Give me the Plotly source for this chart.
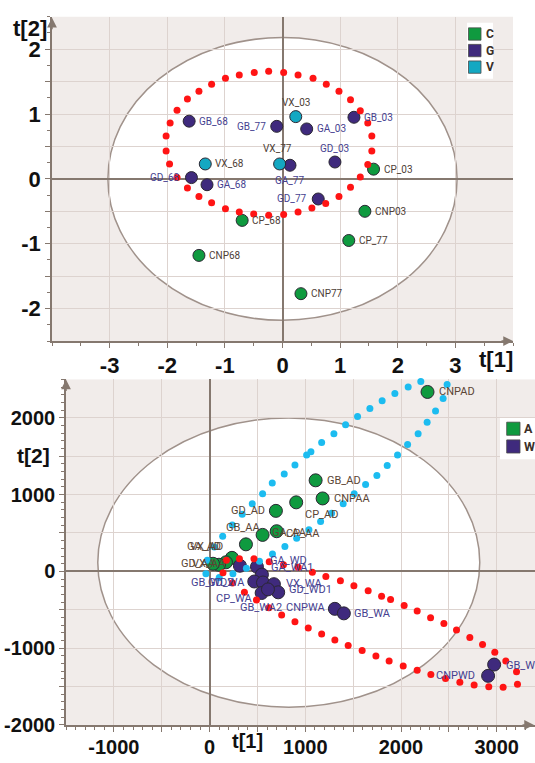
import plotly.graph_objects as go

# ================= TOP PANEL DATA =================
top_names = ["CP_03", "CNP03", "CP_77", "CNP77", "CP_68", "CNP68",
             "GB_68", "GD_68", "GA_68", "GB_77", "GA_03", "GB_03", "GD_03", "GA_77", "GD_77",
             "VX_68", "VX_03", "VX_77"]
top_groups = ["C", "C", "C", "C", "C", "C",
              "G", "G", "G", "G", "G", "G", "G", "G", "G",
              "V", "V", "V"]
top_t1 = [1.58, 1.43, 1.15, 0.32, -0.70, -1.45,
          -1.62, -1.58, -1.31, -0.10, 0.42, 1.24, 0.91, 0.13, 0.62,
          -1.34, 0.23, -0.05]
top_t2 = [0.15, -0.50, -0.95, -1.77, -0.64, -1.18,
          0.89, 0.02, -0.09, 0.81, 0.77, 0.95, 0.26, 0.21, -0.31,
          0.23, 0.96, 0.23]
top_legend = ["C", "G", "V"]

# hand-drawn red dotted loop (dot positions)
top_loop_t1 = [-2.02, -2.02, -1.95, -1.83, -1.65, -1.45, -1.23, -0.99, -0.75, -0.49,
               -0.24, 0.02, 0.27, 0.53, 0.76, 0.98, 1.18, 1.35, 1.48, 1.55,
               1.55, 1.48, 1.35, 1.18, 0.98, 0.75, 0.51, 0.27, 0.02, -0.24,
               -0.50, -0.75, -0.99, -1.23, -1.45, -1.65, -1.83, -1.96]
top_loop_t2 = [0.43, 0.66, 0.86, 1.06, 1.23, 1.35, 1.46, 1.55, 1.60, 1.64,
               1.66, 1.64, 1.60, 1.55, 1.46, 1.35, 1.22, 1.05, 0.86, 0.66,
               0.43, 0.22, 0.03, -0.13, -0.27, -0.38, -0.45, -0.51, -0.55, -0.56,
               -0.54, -0.51, -0.46, -0.37, -0.27, -0.14, 0.02, 0.23]
top_ellipse = [-3.03, 3.03, -2.18, 2.18]   # Hotelling T2 ellipse bounds (t1 min/max, t2 min/max)
top_xticks = [-3, -2, -1, 0, 1, 2, 3]
top_yticks = [-2, -1, 0, 1, 2]

# ================= BOTTOM PANEL DATA =================
bot_names = ["CNPAD", "GB_AD", "CNPAA", "CP_AD", "GD_AD", "CP_AA", "GA_AA", "GB_AA",
             "VX_AD", "GA_AD", "GD_AA", "VX_AA",
             "GB_WD2", "GA_WD", "GA_WA1", "CP_WA", "GD_WA", "GB_WA2", "VX_WA", "GD_WD1",
             "CNPWA", "GB_WA1", "GB_WA", "GB_WD", "CNPWD"]
bot_groups = ["A"] * 12 + ["W"] * 13
bot_t1 = [2277, 1108, 1181, 905, 693, 701, 554, 380,
          234, 171, 98, 36,
          317, 495, 547, 467, 558, 544, 672, 717,
          610, 1309, 1403, 2973, 2910]
bot_t2 = [2337, 1186, 950, 899, 788, 523, 475, 352,
          176, 118, 86, 99,
          73, 60, -42, -132, -145, -282, -167, -273,
          -235, -488, -547, -1214, -1361]
bot_legend = ["A", "W"]

bot_cyan_t1 = [-38, 101, 244, 385, 521, 657, 787, 910, 1038, 1160,
               1275, 1396, 1511, 1630, 1748, 1856, 1964, 2069, 2179, 2273,
               2361, 2440, 2482, 2361, 2207, 2075, 1936, 1803, 1675, 1546,
               1421, 1299, 1171, 1059, 1014, 892, 780, 655, 554, 446,
               341, 237, 137, 49, -24]
bot_cyan_t2 = [-30, -81, -30, 41, 131, 227, 324, 433, 542, 651,
               757, 882, 1010, 1130, 1250, 1379, 1515, 1652, 1793, 1944,
               2089, 2252, 2435, 2534, 2474, 2401, 2316, 2221, 2123, 2016,
               1909, 1793, 1678, 1559, 1515, 1387, 1267, 1152, 1010, 882,
               745, 603, 458, 317, 146]
bot_red_t1 = [140, 176, 312, 464, 623, 772, 926, 1074, 1215, 1367,
              1508, 1657, 1797, 1891, 2033, 2169, 2309, 2448, 2580, 2719,
              2852, 2980, 3095, 3207, 3217, 3067, 2917, 2764, 2615, 2465,
              2312, 2169, 2023, 1876, 1738, 1594, 1448, 1309, 1171, 1031,
              892, 753, 620, 490, 364, 239]
bot_red_t2 = [-17, 144, 163, 163, 125, 86, 54, -10, -68, -123,
              -187, -252, -325, -367, -444, -517, -603, -680, -765, -860,
              -954, -1053, -1168, -1309, -1471, -1510, -1502, -1480, -1446, -1394,
              -1343, -1288, -1232, -1168, -1104, -1031, -967, -894, -817, -739,
              -655, -569, -475, -372, -273, -151]
bot_ellipse = [-1168, 2823, -1769, 1999]
bot_xticks = [-1000, 0, 1000, 2000, 3000]
bot_yticks = [-2000, -1000, 0, 1000, 2000]

# ================= STYLE =================
W, H = 535, 763
group_color = {"C": "#0f9a3f", "G": "#3f2a7d", "V": "#14a8c2", "A": "#0f9a3f", "W": "#3f2a7d"}
label_color = {"C": "#4e4037", "G": "#463f90", "V": "#4e4037", "A": "#5b4535", "W": "#463f90"}
BG = "#f1ecea"
GRID = "#ddd3cf"
AXIS = "#85786f"
TICKFONT = "Liberation Sans Narrow, Arial Narrow, Liberation Sans, Arial"
LABELFONT = "Roboto, Liberation Sans, sans-serif"

# label placement: (xanchor, xshift px, yshift px)
top_place = {
    "GD_68": ("right", -9, 0), "GB_77": ("right", -9, 0), "GD_77": ("right", -9, 0),
    "GD_03": ("center", 0, 14), "VX_03": ("center", 0, 14), "VX_77": ("center", -2, 15),
    "GA_77": ("center", 0, -15),
}
bot_place = {
    "CNPAD": ("left", 9, 0), "GB_AD": ("left", 9, 0), "CNPAA": ("left", 9, 0),
    "CP_AD": ("left", 7, -12), "GD_AD": ("right", -9, 0), "CP_AA": ("left", 7, -2),
    "GA_AA": ("left", 7, 2), "GB_AA": ("center", -3, 17), "VX_AD": ("right", -7, 11),
    "GA_AD": ("right", -3, 16), "GD_AA": ("right", -1, 1), "VX_AA": ("right", 15, 0),
    "GB_WD2": ("right", -5, -17), "GA_WD": ("left", 11, 6), "GA_WA1": ("left", 7, 7),
    "CP_WA": ("right", 1, -17), "GD_WA": ("right", -16, 0), "GB_WA2": ("center", -1, -14),
    "VX_WA": ("left", 10, 1), "GD_WD1": ("left", 9, 3), "CNPWA": ("left", 16, -18),
    "GB_WA1": None, "GB_WA": ("left", 8, 0), "GB_WD": ("left", 10, -1),
    "CNPWD": ("right", -11, 0),
}


def px_x(p):
    return p / W


def px_y(p):
    return 1 - p / H


# plot areas in pixels
top_box = (52, 513, 17, 346)
bot_box = (66, 535, 385, 735.5)

fig = go.Figure()

# ---- top traces ----
for g in top_legend:
    idx = [i for i, gg in enumerate(top_groups) if gg == g]
    fig.add_trace(go.Scatter(
        x=[top_t1[i] for i in idx], y=[top_t2[i] for i in idx], mode="markers",
        marker=dict(size=12, color=group_color[g], line=dict(color="#2b2733", width=1)),
        xaxis="x", yaxis="y", showlegend=False, hoverinfo="skip"))
fig.add_trace(go.Scatter(x=top_loop_t1, y=top_loop_t2, mode="markers",
                         marker=dict(size=7, color="#ff1414"), xaxis="x", yaxis="y",
                         showlegend=False, cliponaxis=False, hoverinfo="skip"))

# ---- bottom traces ----
for g in bot_legend:
    idx = [i for i, gg in enumerate(bot_groups) if gg == g]
    fig.add_trace(go.Scatter(
        x=[bot_t1[i] for i in idx], y=[bot_t2[i] for i in idx], mode="markers",
        marker=dict(size=13, color=group_color[g], line=dict(color="#2b2733", width=1)),
        xaxis="x2", yaxis="y2", showlegend=False, hoverinfo="skip"))
fig.add_trace(go.Scatter(x=bot_cyan_t1, y=bot_cyan_t2, mode="markers",
                         marker=dict(size=7, color="#1cbcf0"), xaxis="x2", yaxis="y2",
                         showlegend=False, cliponaxis=False, hoverinfo="skip"))
fig.add_trace(go.Scatter(x=bot_red_t1, y=bot_red_t2, mode="markers",
                         marker=dict(size=7, color="#ff1414"), xaxis="x2", yaxis="y2",
                         showlegend=False, cliponaxis=False, hoverinfo="skip"))

# ---- ellipses ----
for (x0, x1, y0, y1), xr, yr in [(top_ellipse, "x", "y"), (bot_ellipse, "x2", "y2")]:
    fig.add_shape(type="circle", xref=xr, yref=yr, x0=x0, x1=x1, y0=y0, y1=y1,
                  fillcolor="white", line=dict(color="#a0928b", width=1.5), layer="below")

# ---- point labels ----
default_place = ("left", 8, 0)
for n, x, y, g in zip(top_names, top_t1, top_t2, top_groups):
    a, dx, dy = top_place.get(n, default_place)
    fig.add_annotation(x=x, y=y, xref="x", yref="y", text=n, showarrow=False,
                       xanchor=a, yanchor="middle", xshift=dx, yshift=dy,
                       font=dict(family=LABELFONT, size=10, color=label_color[g]))
for n, x, y, g in zip(bot_names, bot_t1, bot_t2, bot_groups):
    pl = bot_place.get(n, default_place)
    if pl is None:
        continue
    a, dx, dy = pl
    fig.add_annotation(x=x, y=y, xref="x2", yref="y2", text=n, showarrow=False,
                       xanchor=a, yanchor="middle", xshift=dx, yshift=dy,
                       font=dict(family=LABELFONT, size=11, color=label_color[g]))


def axis_common(rng, dom, tickvals_grid, labelled, minor_dtick, fsize, anchor, standoff=0):
    return dict(
        range=rng, domain=dom, anchor=anchor,
        tickmode="array", tickvals=tickvals_grid,
        ticktext=[(f"{v:g}" if v in labelled else "") for v in tickvals_grid],
        showgrid=True, gridcolor=GRID, gridwidth=1,
        zeroline=True, zerolinecolor=AXIS, zerolinewidth=1.5,
        showline=True, linecolor=AXIS, linewidth=1.5,
        ticks="outside", ticklen=5, tickwidth=1, tickcolor=AXIS,
        minor=dict(dtick=minor_dtick, ticks="outside", ticklen=3, tickcolor=AXIS, showgrid=False),
        tickfont=dict(family=TICKFONT, size=fsize, color="#111111", weight="bold"),
        ticklabelstandoff=standoff,
        fixedrange=True,
    )


l, r, t, b = top_box
fig.update_layout(
    xaxis=axis_common([-4, 4], [px_x(l), px_x(r)], top_xticks, top_xticks, 0.5, 22, "y", -1),
    yaxis=axis_common([-2.5, 2.5], [px_y(b), px_y(t)], [v / 2 for v in range(-4, 5)],
                      top_yticks, 0.25, 22, "x"),
)
l2, r2, t2_, b2 = bot_box
fig.update_layout(
    xaxis2=axis_common([-1500, 3400], [px_x(l2), px_x(r2)], list(range(-1000, 3001, 500)),
                       bot_xticks, 100, 20, "y2", -2),
    yaxis2=axis_common([-2000, 2500], [px_y(b2), px_y(t2_)], list(range(-2000, 2001, 500)),
                       bot_yticks, 100, 20, "x2"),
)

# ---- axis arrows ----
arrows = [(l, t + 1, 0, 13), (r, b, -13, 0), (l2, t2_, 0, 13), (r2 - 1, b2, -13, 0)]
for xp, yp, ax, ay in arrows:
    fig.add_annotation(x=px_x(xp), y=px_y(yp), xref="paper", yref="paper", text="",
                       showarrow=True, ax=ax, ay=ay, arrowhead=2, arrowsize=1.3,
                       arrowwidth=1.5, arrowcolor=AXIS)

# ---- axis titles ----
titles = [("t[2]", 30, 29, 22), ("t[1]", 496, 365, 22), ("t[2]", 33, 462, 21), ("t[1]", 247, 752, 20)]
for txt, xp, yp, fs in titles:
    fig.add_annotation(x=px_x(xp), y=px_y(yp), xref="paper", yref="paper", text=txt,
                       showarrow=False, xanchor="center", yanchor="middle",
                       font=dict(family=TICKFONT, size=fs, color="#111111", weight="bold"))

# ---- legends (drawn boxes) ----
legends = [(top_legend, (467, 23, 493, 80), 12.5, 34.5, 16.8, 468.5, 483.5, 12),
           (bot_legend, (500, 424, 535, 466), 13.3, 435, 18, 506.7, 521.5, 12.5)]
for groups, (bx0, by0, bx1, by1), sq, y_first, step, sqx, txtx, fs in legends:
    fig.add_shape(type="rect", xref="paper", yref="paper", x0=px_x(bx0), x1=px_x(bx1),
                  y0=px_y(by1), y1=px_y(by0), fillcolor="white", line=dict(width=0), layer="above")
    for k, g in enumerate(groups):
        cy = y_first + k * step
        fig.add_shape(type="rect", xref="paper", yref="paper",
                      x0=px_x(sqx), x1=px_x(sqx + sq), y0=px_y(cy + sq / 2), y1=px_y(cy - sq / 2),
                      fillcolor=group_color[g], line=dict(color="#4a4a4a", width=0.8), layer="above")
        fig.add_annotation(x=px_x(txtx), y=px_y(cy), xref="paper", yref="paper", text=g,
                           showarrow=False, xanchor="left", yanchor="middle",
                           font=dict(family="Roboto, Liberation Sans", size=fs, color="#3b2f28",
                                     weight="bold"))

fig.update_layout(
    width=W, height=H, autosize=False,
    margin=dict(l=0, r=0, t=0, b=0),
    paper_bgcolor="white", plot_bgcolor=BG,
    showlegend=False, hovermode=False,
)

fig.write_html("out.html", config={"displayModeBar": False},
               post_script="document.body.style.margin='0px';document.body.style.overflow='hidden';")
